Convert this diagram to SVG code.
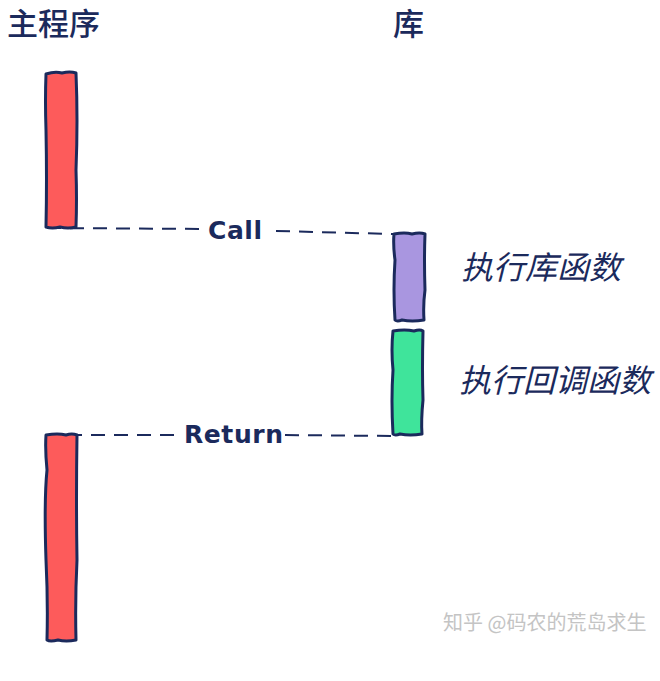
<svg xmlns="http://www.w3.org/2000/svg" width="660" height="681" viewBox="0 0 660 681">
<style>
.bar{stroke:#1b2a5c;stroke-width:3;stroke-linejoin:round}
.dash{fill:none;stroke:#1b2a5c;stroke-width:2;stroke-dasharray:14 9}
.lbl{font-family:"DejaVu Sans",sans-serif;font-weight:bold;font-size:25px;fill:#1b2a5c}
.hdr{font-family:"Noto Sans CJK SC",sans-serif;font-size:31px;font-weight:500;fill:#1b2a5c}
.note{font-family:"Noto Sans CJK SC",sans-serif;font-size:32px;fill:#1b2a5c;font-style:italic}
</style>
<rect width="660" height="681" fill="#ffffff"/>
<text class="hdr" x="7" y="35">主程序</text>
<text class="hdr" x="393" y="35">库</text>
<g id="connectors">
<path class="dash" d="M47 228 L208 229"/>
<path class="dash" d="M276 231 L393 234"/>
<path class="dash" d="M45 435 L183 435"/>
<path class="dash" d="M285 435 L391 436"/>
<text class="lbl" x="208" y="239" textLength="54">Call</text>
<text class="lbl" x="184" y="443" textLength="99">Return</text>
</g>
<g id="main1">
<path class="bar" fill="#fd5b5b" d="M46 74 Q55 71 62 73 Q70 71 76 73 Q78 120 76 170 Q77 200 76 227 Q68 229 60 227 Q52 229 46 227 Q47 180 46 130 Q45 100 46 74 Z"/>
</g>
<g id="lib1">
<path class="bar" fill="#a996e0" d="M394 234 Q405 232 412 234 Q420 232 425 234 Q424 260 425 290 Q423 305 424 320 Q412 322 402 320 Q397 322 395 320 Q393 290 395 260 Q393 245 394 234 Z"/>
</g>
<g id="lib2">
<path class="bar" fill="#3fe49b" d="M393 331 Q405 329 414 331 Q420 329 423 331 Q422 370 423 400 Q421 420 422 434 Q410 436 400 434 Q395 436 393 434 Q391 400 393 370 Q391 350 393 331 Z"/>
</g>
<g id="main2">
<path class="bar" fill="#fd5b5b" d="M46 435 Q58 433 66 435 Q72 433 77 435 Q76 500 77 560 Q75 600 76 640 Q66 642 58 640 Q50 642 47 640 Q48 600 46 560 Q44 500 47 470 Q45 450 46 435 Z"/>
</g>
<text class="note" x="461" y="279">执行库函数</text>
<text class="note" x="459" y="392">执行回调函数</text>
<text x="443" y="630" font-family="Noto Sans CJK SC,sans-serif" font-size="20" fill="#c4c4c4">知乎 @码农的荒岛求生</text>
</svg>
